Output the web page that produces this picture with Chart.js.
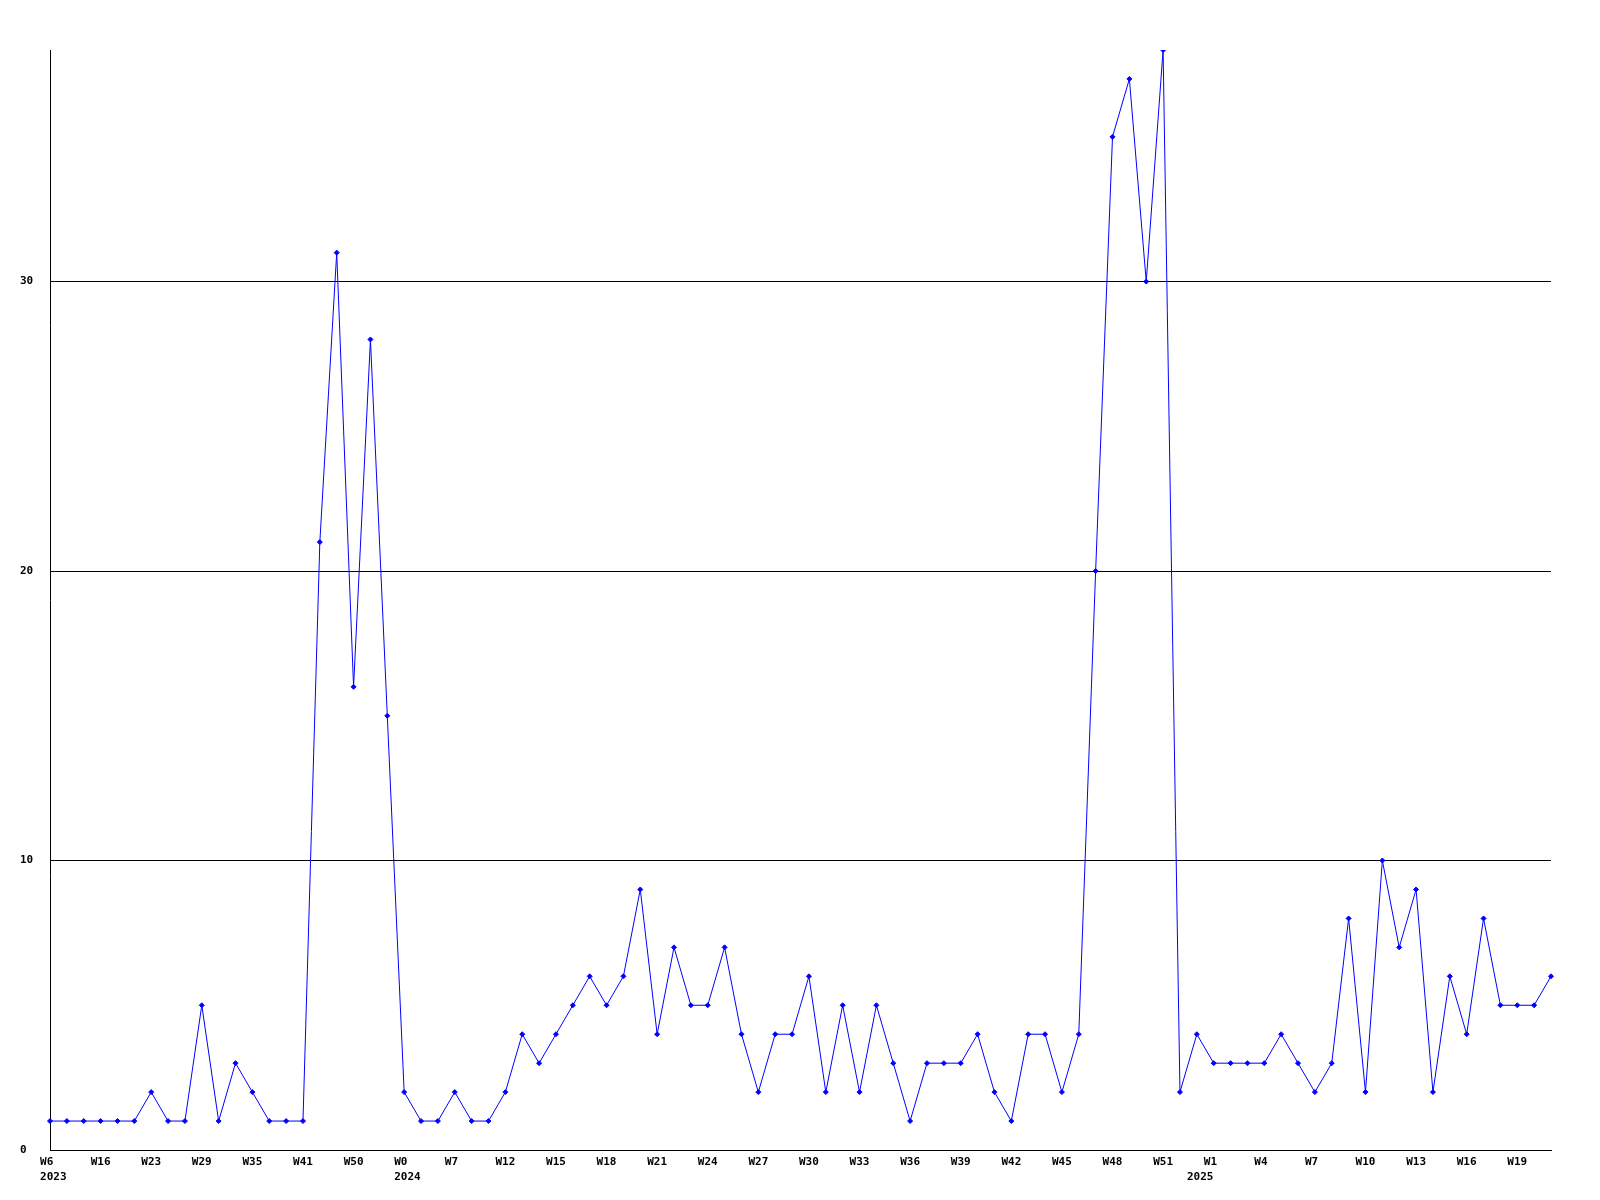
<!DOCTYPE html>
<html>
<head>
<meta charset="utf-8">
<script src="https://cdn.jsdelivr.net/npm/chart.js@4.4.1/dist/chart.umd.min.js"></script>
<style>
  body { margin: 0; background: #fff; }
  canvas { display: block; }
</style>
</head>
<body>
<canvas id="weekChart" width="1600" height="1200"></canvas>
<script>
// weeks shown on the x axis (only every third one is labelled)
const weeks = [
    'W6', 'W9', 'W13', 'W16', 'W18', 'W20', 'W23', 'W25', 'W27', 'W29',
    'W31', 'W33', 'W35', 'W37', 'W39', 'W41', 'W44', 'W47', 'W50', 'W51',
    'W52', 'W0', 'W2', 'W4', 'W7', 'W9', 'W10', 'W12', 'W13', 'W14',
    'W15', 'W16', 'W17', 'W18', 'W19', 'W20', 'W21', 'W22', 'W23', 'W24',
    'W25', 'W26', 'W27', 'W28', 'W29', 'W30', 'W31', 'W32', 'W33', 'W34',
    'W35', 'W36', 'W37', 'W38', 'W39', 'W40', 'W41', 'W42', 'W43', 'W44',
    'W45', 'W46', 'W47', 'W48', 'W49', 'W50', 'W51', 'W52', 'W0', 'W1',
    'W2', 'W3', 'W4', 'W5', 'W6', 'W7', 'W8', 'W9', 'W10', 'W11',
    'W12', 'W13', 'W14', 'W15', 'W16', 'W17', 'W18', 'W19', 'W20', 'W21'
];

// where a new year starts
const yearStart = [0, 21, 68];
const yearLabels = ['2023', '2024', '2025'];

const counts = [
    1, 1, 1, 1, 1, 1, 2, 1, 1, 5,
    1, 3, 2, 1, 1, 1, 21, 31, 16, 28,
    15, 2, 1, 1, 2, 1, 1, 2, 4, 3,
    4, 5, 6, 5, 6, 9, 4, 7, 5, 5,
    7, 4, 2, 4, 4, 6, 2, 5, 2, 5,
    3, 1, 3, 3, 3, 4, 2, 1, 4, 4,
    2, 4, 20, 35, 37, 30, 38, 2, 4, 3,
    3, 3, 3, 4, 3, 2, 3, 8, 2, 10,
    7, 9, 2, 6, 4, 8, 5, 5, 5, 6
];

const yMax = 38;
const yStep = 10;

const axisFont = { family: 'DejaVu Sans Mono', size: 11, weight: 'bold', lineHeight: 1.34 };

function weekTick(value, index) {
    const lines = [];
    const wk = index % 3 === 0 ? weeks[index].padEnd(3) : '';
    const y = yearStart.indexOf(index);
    if (y >= 0) {
        lines.push(wk, ' ' + yearLabels[y]);
        return lines;
    }
    return wk;
}

const ctx = document.getElementById('weekChart');

const data = {
    labels: weeks,
    datasets: [{
        data: counts,
        borderColor: '#0000ff',
        backgroundColor: '#0000ff',
        borderWidth: 1,
        tension: 0,
        pointStyle: 'rectRot',
        pointRadius: 2.5,
        pointBorderWidth: 1,
        pointBorderColor: '#0000ff',
        pointBackgroundColor: '#0000ff'
    }]
};

const options = {
    responsive: false,
    animation: false,
    devicePixelRatio: 1,
    layout: {
        padding: { top: 50, left: 20, right: 49, bottom: 0 }
    },
    plugins: {
        legend: { display: false },
        tooltip: { enabled: false }
    },
    scales: {
        x: {
            offset: false,
            grid: { display: false, drawTicks: false },
            border: { display: true, color: '#000', width: 1 },
            ticks: {
                autoSkip: false,
                maxRotation: 0,
                minRotation: 0,
                padding: 5,
                color: '#000',
                font: axisFont,
                callback: weekTick
            },
            afterFit: function (scale) { scale.height = 50; }
        },
        y: {
            min: 0,
            max: yMax,
            grid: { color: '#000', lineWidth: 1, drawTicks: false },
            border: { display: true, color: '#000', width: 1 },
            ticks: {
                stepSize: yStep,
                crossAlign: 'far',
                color: '#000',
                font: axisFont
            },
            afterBuildTicks: function (scale) {
                scale.ticks = scale.ticks.filter(t => t.value % yStep === 0);
            },
            afterFit: function (scale) { scale.width = 30; }
        }
    }
};

new Chart(ctx, {
    type: 'line',
    data: data,
    options: options
});
</script>
</body>
</html>
